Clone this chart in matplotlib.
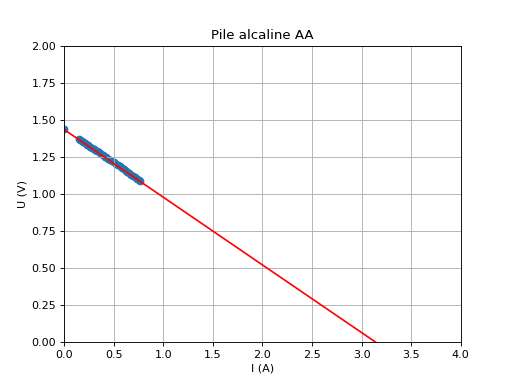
import matplotlib
matplotlib.use("Agg")
import matplotlib.pyplot as plt

# mesures (I en A, U en V)
I = [0.0, 0.15, 0.16, 0.18, 0.19, 0.21, 0.23, 0.24, 0.26, 0.28, 0.30, 0.31,
     0.33, 0.35, 0.37, 0.39, 0.41, 0.42, 0.44, 0.46, 0.48, 0.50, 0.52, 0.54,
     0.56, 0.58, 0.60, 0.62, 0.64, 0.66, 0.68, 0.70, 0.72, 0.74, 0.76, 0.77]
U = [1.436, 1.373, 1.366, 1.358, 1.352, 1.345, 1.334, 1.331, 1.320, 1.313, 1.302, 1.299,
     1.288, 1.281, 1.270, 1.263, 1.252, 1.249, 1.239, 1.232, 1.220, 1.213, 1.204, 1.195,
     1.186, 1.175, 1.168, 1.157, 1.150, 1.139, 1.131, 1.121, 1.113, 1.103, 1.096, 1.090]

# modele U = E - r*I
E = 1.436
r = 0.458
x_mod = [0, 4]

plt.figure(figsize=(6.4, 4.8), dpi=80)
plt.scatter(I, U)
plt.plot(x_mod, [E - r * x for x in x_mod], color='red')
plt.title('Pile alcaline AA')
plt.xlabel('I (A)')
plt.ylabel('U (V)')
plt.xlim(0, 4)
plt.ylim(0, 2)
plt.grid()
plt.savefig('out.png')
